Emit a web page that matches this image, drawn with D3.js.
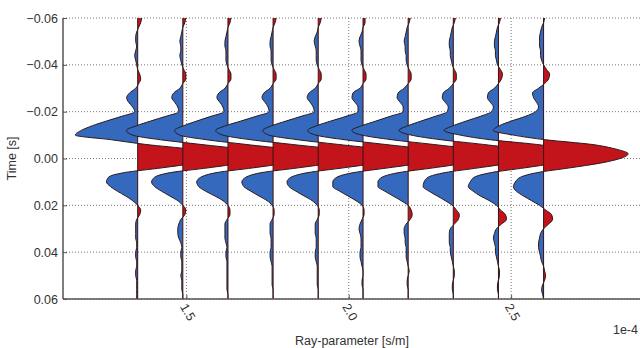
<!DOCTYPE html>
<html>
<head>
<meta charset="utf-8">
<script src="https://cdn.jsdelivr.net/npm/d3@7"></script>
<style>
  body { margin: 0; background: #fff; }
  svg { display: block; font-family: "Liberation Sans", Arial, sans-serif; }
</style>
</head>
<body>
<svg></svg>
<script>
let width = 640, height = 348;

// ---- data ----
// sample times [s], one every 2 ms
const times = [
  -0.060, -0.058, -0.056, -0.054, -0.052, -0.050, -0.048, -0.046, -0.044, -0.042,
  -0.040, -0.038, -0.036, -0.034, -0.032, -0.030, -0.028, -0.026, -0.024, -0.022,
  -0.020, -0.018, -0.016, -0.014, -0.012, -0.010, -0.008, -0.006, -0.004, -0.002,
   0.000,  0.002,  0.004,  0.006,  0.008,  0.010,  0.012,  0.014,  0.016,  0.018,
   0.020,  0.022,  0.024,  0.026,  0.028,  0.030,  0.032,  0.034,  0.036,  0.038,
   0.040,  0.042,  0.044,  0.046,  0.048,  0.050,  0.052,  0.054,  0.056,  0.058,
   0.060
];

// ray parameter of each trace (x 1e-4 s/m)
const rayParams = [1.35, 1.489, 1.628, 1.767, 1.906, 2.044, 2.183, 2.322, 2.461, 2.6];

// trace amplitudes (arbitrary units), one array per trace
const trace1  = [4,3,1,-1,-2,-2,-1,-2,-3,-2, -1,0,2,3,1,-2,-8,-11,-9,-5, -3,-16,-31,-45,-56,-62,-26,8,52,74, 72,56,24,-13,-29,-31,-27,-20,-12,-5, 0,3,2,-1,-2,-2,-2,-2,-1,-1, -2,-2,-1,-1,-2,-2,-1,-1,-1,-1, -1];
const trace2  = [3,2,0,-1,-2,-3,-2,-2,-3,-2, -1,1,3,3,0,-3,-9,-11,-8,-5, -4,-17,-32,-46,-56,-50,-22,18,58,75, 74,57,25,-12,-28,-31,-28,-21,-13,-5, 0,3,2,-2,-4,-5,-5,-4,-2,-1, -2,-2,-1,-1,-1,-2,-1,-1,-1,0, 0];
const trace3  = [3,2,0,-1,-2,-3,-3,-2,-2,-2, -1,1,3,3,0,-3,-9,-11,-8,-5, -4,-17,-31,-44,-53,-48,-21,18,58,76, 74,57,25,-11,-27,-31,-29,-22,-13,-5, 0,2,2,-1,-3,-3,-3,-3,-2,-1, -2,-2,-1,-1,-1,-1,-1,-1,-1,0, 0];
const trace4  = [3,2,0,-1,-2,-3,-3,-2,-2,-2, -1,1,3,3,0,-3,-9,-11,-8,-5, -4,-17,-32,-47,-57,-50,-22,19,60,77, 75,57,25,-11,-27,-31,-29,-22,-14,-6, -1,1,1,-1,-3,-3,-3,-2,-2,-2, -3,-3,-2,-1,-1,-1,-1,-1,0,0, 0];
const trace5  = [3,2,0,-1,-3,-4,-3,-2,-2,-2, -1,1,3,3,0,-3,-9,-11,-8,-5, -4,-17,-32,-46,-55,-49,-20,20,61,78, 75,57,25,-10,-27,-31,-29,-22,-14,-6, -1,1,1,-1,-3,-3,-3,-2,-2,-2, -3,-3,-2,-1,-1,-1,-1,-1,0,0, 0];
const trace6  = [2,2,0,-1,-3,-4,-3,-2,-2,-2, -1,1,3,3,0,-3,-10,-11,-8,-5, -5,-17,-32,-46,-55,-47,-18,22,62,79, 75,57,25,-9,-26,-30,-30,-23,-15,-7, -1,1,1,-1,-3,-4,-3,-2,-2,-2, -3,-3,-2,-1,0,0,-1,-1,0,0, 0];
const trace7  = [2,1,-1,-2,-3,-4,-3,-3,-2,-2, -1,1,3,3,0,-4,-10,-11,-8,-5, -5,-18,-32,-46,-56,-46,-16,25,64,80, 75,56,25,-9,-26,-30,-30,-23,-15,-7, 0,3,4,2,-2,-4,-4,-3,-3,-2, -2,-2,-1,0,1,0,-1,-1,0,0, 0];
const trace8  = [2,1,-1,-2,-3,-4,-4,-3,-3,-2, -1,1,3,3,0,-4,-10,-11,-8,-5, -6,-18,-32,-45,-54,-42,-12,30,66,81, 75,56,25,-8,-25,-29,-30,-24,-16,-8, -1,3,6,5,1,-3,-4,-4,-4,-3, -3,-2,-1,0,1,1,0,-1,-1,0, 0];
const trace9  = [2,1,-1,-2,-3,-4,-4,-3,-3,-2, -1,2,4,3,0,-4,-10,-11,-8,-5, -7,-18,-32,-45,-54,-38,-8,38,69,82, 76,56,26,-7,-24,-28,-30,-25,-18,-9, -2,2,7,8,3,-2,-4,-5,-4,-3, -3,-2,-1,0,1,1,0,-1,-1,0, 0];
const trace10 = [1,0,-2,-3,-4,-4,-4,-3,-3,-2, 0,3,6,5,1,-5,-11,-10,-7,-5, -8,-18,-32,-44,-50,-30,2,48,72,84, 76,56,26,-6,-23,-28,-30,-27,-20,-12, -4,2,8,9,5,0,-3,-4,-5,-5, -4,-3,-2,0,1,2,1,-1,-2,-1, 0];

const traces = [trace1, trace2, trace3, trace4, trace5, trace6, trace7, trace8, trace9, trace10];

const xTicks = [1.5, 2.0, 2.5];
const yTicks = [-0.06, -0.04, -0.02, 0.00, 0.02, 0.04, 0.06];

// amplitude unit -> ray-parameter units
const gain = 0.0031;

let svg = d3.select("svg")
    .attr("width", width)
    .attr("height", height);

const plot = { left: 63, right: 641, top: 18, bottom: 299 };

const x = d3.scaleLinear().domain([1.12, 2.9]).range([plot.left, plot.right]);
const y = d3.scaleLinear().domain([-0.06, 0.06]).range([plot.top, plot.bottom]);

const defs = svg.append("defs");
defs.append("clipPath").attr("id", "plot-clip")
    .append("rect")
    .attr("x", plot.left).attr("y", plot.top)
    .attr("width", plot.right - plot.left).attr("height", plot.bottom - plot.top);

// Grid (dotted)
const grid = svg.append("g").attr("class", "grid");
grid.selectAll("line.gy")
    .data(yTicks)
    .enter().append("line")
    .attr("x1", plot.left).attr("x2", plot.right)
    .attr("y1", d => y(d)).attr("y2", d => y(d))
    .attr("stroke", "#777")
    .attr("stroke-width", 1)
    .attr("stroke-dasharray", "1,2");
grid.selectAll("line.gx")
    .data(xTicks)
    .enter().append("line")
    .attr("x1", d => x(d)).attr("x2", d => x(d))
    .attr("y1", plot.top).attr("y2", plot.bottom)
    .attr("stroke", "#777")
    .attr("stroke-width", 1)
    .attr("stroke-dasharray", "1,2");

// Wiggle traces, drawn left to right so later ones overlap earlier ones
const traceG = svg.append("g").attr("clip-path", "url(#plot-clip)");

traces.forEach((amps, i) => {
    const p = rayParams[i];
    const x0 = x(p);
    const pts = times.map((t, j) => ({ t: t, a: amps[j] }));

    defs.append("clipPath").attr("id", "pos-" + i)
        .append("rect")
        .attr("x", x0).attr("y", plot.top)
        .attr("width", plot.right - x0).attr("height", plot.bottom - plot.top);
    defs.append("clipPath").attr("id", "neg-" + i)
        .append("rect")
        .attr("x", plot.left).attr("y", plot.top)
        .attr("width", x0 - plot.left).attr("height", plot.bottom - plot.top);

    const area = d3.area()
        .curve(d3.curveMonotoneY)
        .y(d => y(d.t))
        .x0(x0)
        .x1(d => x(p + d.a * gain));

    const line = d3.line()
        .curve(d3.curveMonotoneY)
        .y(d => y(d.t))
        .x(d => x(p + d.a * gain));

    const g = traceG.append("g");

    g.append("path")
        .attr("d", area(pts))
        .attr("fill", "#c3141b")
        .attr("clip-path", "url(#pos-" + i + ")");

    g.append("path")
        .attr("d", area(pts))
        .attr("fill", "#3569bd")
        .attr("clip-path", "url(#neg-" + i + ")");

    // baseline
    g.append("line")
        .attr("x1", x0).attr("x2", x0)
        .attr("y1", plot.top).attr("y2", plot.bottom)
        .attr("stroke", "#3a1010")
        .attr("stroke-width", 1);

    g.append("path")
        .attr("d", line(pts))
        .attr("fill", "none")
        .attr("stroke", "#2a1a1a")
        .attr("stroke-width", 1);
});

// Axes
const yAxis = d3.axisLeft(y)
    .tickValues(yTicks)
    .tickFormat(d3.format(".2f"))
    .tickSize(-4)
    .tickPadding(5);

const xAxis = d3.axisBottom(x)
    .tickValues(xTicks)
    .tickFormat(d3.format(".1f"))
    .tickSize(-4)
    .tickPadding(5);

const gy = svg.append("g")
    .attr("transform", `translate(${plot.left},0)`)
    .call(yAxis);
gy.select(".domain").remove();
gy.selectAll(".tick line").attr("stroke", "#555");
gy.selectAll("text")
    .attr("fill", "#333")
    .style("font-size", "12.5px");

const gx = svg.append("g")
    .attr("transform", `translate(0,${plot.bottom})`)
    .call(xAxis);
gx.select(".domain").remove();
gx.selectAll(".tick line").attr("stroke", "#555");
gx.selectAll("text")
    .attr("fill", "#333")
    .style("font-size", "12.5px")
    .attr("y", 0)
    .attr("dy", "0.35em")
    .attr("text-anchor", "middle")
    .attr("transform", "translate(1,13) rotate(60)");

// Spines
svg.append("line")
    .attr("x1", plot.left).attr("x2", plot.left)
    .attr("y1", plot.top).attr("y2", plot.bottom)
    .attr("stroke", "#555").attr("stroke-width", 1.5);
svg.append("line")
    .attr("x1", plot.left).attr("x2", plot.right)
    .attr("y1", plot.bottom).attr("y2", plot.bottom)
    .attr("stroke", "#555").attr("stroke-width", 1.5);

// Labels
svg.append("text")
    .attr("x", (plot.left + plot.right) / 2)
    .attr("y", 345)
    .attr("text-anchor", "middle")
    .attr("fill", "#333")
    .style("font-size", "12.5px")
    .text("Ray-parameter [s/m]");

svg.append("text")
    .attr("transform", `translate(16,${(plot.top + plot.bottom) / 2}) rotate(-90)`)
    .attr("text-anchor", "middle")
    .attr("fill", "#333")
    .style("font-size", "12.5px")
    .text("Time [s]");

svg.append("text")
    .attr("x", 638)
    .attr("y", 334)
    .attr("text-anchor", "end")
    .attr("fill", "#333")
    .style("font-size", "12.5px")
    .text("1e-4");
</script>
</body>
</html>
